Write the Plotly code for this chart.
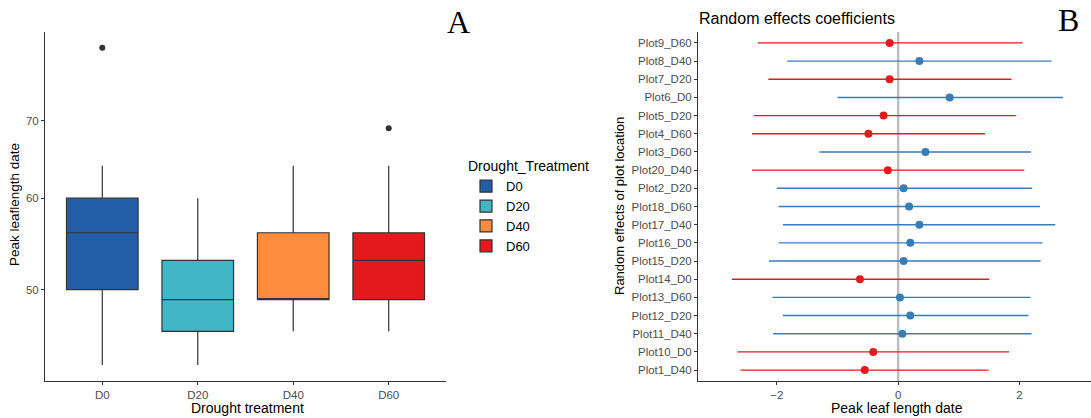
import plotly.graph_objects as go

# ---- Panel A data (box statistics) ----
treatments = ["D0", "D20", "D40", "D60"]
box_colors = ["#225EA8", "#41B6C4", "#FD8D3C", "#E31A1C"]
q1 = [50, 46, 49, 49]
median = [56, 49, 49, 53]
q3 = [60, 53, 56, 56]
lower_whisker = [43, 43, 46, 46]
upper_whisker = [64, 60, 64, 64]
outlier_treatment = ["D0", "D60"]
outlier_value = [81, 69]

# ---- Panel B data (random effects) ----
plots = ["Plot9_D60", "Plot8_D40", "Plot7_D20", "Plot6_D0", "Plot5_D20", "Plot4_D60",
         "Plot3_D60", "Plot20_D40", "Plot2_D20", "Plot18_D60", "Plot17_D40", "Plot16_D0",
         "Plot15_D20", "Plot14_D0", "Plot13_D60", "Plot12_D20", "Plot11_D40", "Plot10_D0",
         "Plot1_D40"]
estimate = [-0.14, 0.35, -0.14, 0.85, -0.24, -0.49, 0.45, -0.17, 0.09, 0.18, 0.35, 0.20,
            0.09, -0.63, 0.03, 0.20, 0.07, -0.41, -0.55]
ci_low = [-2.31, -1.83, -2.14, -1.00, -2.38, -2.41, -1.30, -2.41, -2.00, -1.97, -1.90, -1.97,
          -2.13, -2.74, -2.07, -1.90, -2.06, -2.65, -2.60]
ci_high = [2.05, 2.53, 1.87, 2.72, 1.94, 1.43, 2.19, 2.08, 2.21, 2.34, 2.59, 2.38,
           2.35, 1.50, 2.18, 2.15, 2.20, 1.83, 1.49]

W, H = 1091, 418
fig = go.Figure()

# Panel A boxes
for t, c, a, m, b, lw, uw in zip(treatments, box_colors, q1, median, q3, lower_whisker, upper_whisker):
    fig.add_trace(go.Box(
        x=[t], q1=[a], median=[m], q3=[b], lowerfence=[lw], upperfence=[uw],
        name=t, fillcolor=c, line=dict(color="#333333", width=1.2),
        width=0.75, whiskerwidth=0, boxpoints=False,
        xaxis="x", yaxis="y", legendgroup=t, showlegend=True,
    ))
fig.add_trace(go.Scatter(
    x=outlier_treatment, y=outlier_value, mode="markers",
    marker=dict(color="#333333", size=6), showlegend=False, xaxis="x", yaxis="y",
))

# Panel B
red, blue = "#E41A1C", "#377EB8"
for sign, col in (("neg", red), ("pos", blue)):
    idx = [i for i, e in enumerate(estimate) if (e < 0) == (sign == "neg")]
    fig.add_trace(go.Scatter(
        x=[estimate[i] for i in idx], y=[plots[i] for i in idx], mode="markers",
        marker=dict(color=col, size=8),
        error_x=dict(type="data", symmetric=False,
                     array=[ci_high[i] - estimate[i] for i in idx],
                     arrayminus=[estimate[i] - ci_low[i] for i in idx],
                     color=col, thickness=1.4, width=0),
        showlegend=False, xaxis="x2", yaxis="y2",
    ))

ydom = [(H - 381) / H, (H - 32) / H]
tickfont = dict(family="Liberation Sans, Arial, sans-serif", size=11.5, color="#4D4D4D")
axis_common = dict(showline=True, linecolor="#333333", linewidth=1, ticks="outside",
                   ticklen=3, tickcolor="#333333", showgrid=False, zeroline=False,
                   tickfont=tickfont)

fig.update_layout(
    width=W, height=H, margin=dict(l=0, r=0, t=0, b=0),
    paper_bgcolor="white", plot_bgcolor="white",
    boxmode="overlay",
    font=dict(family="Liberation Sans, Arial, sans-serif", color="black"),
    xaxis=dict(domain=[45 / W, 446 / W], type="category", categoryorder="array",
               categoryarray=treatments, range=[-0.6, 3.6], anchor="y", **axis_common),
    yaxis=dict(domain=ydom, type="log", range=[1.6197, 1.9222], tickvals=[50, 60, 70],
               anchor="x", **axis_common),
    xaxis2=dict(domain=[698 / W, 1.0], range=[-3.3, 3.18], tickvals=[-2, 0, 2],
                anchor="y2", **axis_common),
    yaxis2=dict(domain=ydom, type="category", categoryorder="array", categoryarray=plots,
                range=[len(plots) - 0.4, -0.6], anchor="x2", **axis_common),
    legend=dict(x=466 / W, y=(H - 153) / H, xanchor="left", yanchor="top",
                title=dict(text="Drought_Treatment", font=dict(size=14, color="black")),
                font=dict(size=13, color="black"), itemwidth=30, tracegroupgap=0,
                bgcolor="rgba(0,0,0,0)"),
    shapes=[dict(type="line", xref="x2", yref="paper", x0=0, x1=0,
                 y0=ydom[0], y1=ydom[1], line=dict(color="#BEBEBE", width=2.5), layer="below")],
)

ann = [
    dict(text="Peak leaflength date", x=15 / W, y=(H - 205) / H, textangle=-90, font=dict(size=13.5)),
    dict(text="Drought treatment", x=247 / W, y=(H - 408) / H, font=dict(size=14)),
    dict(text="Peak leaf length date", x=897 / W, y=(H - 408) / H, font=dict(size=14)),
    dict(text="Random effects of plot location", x=619 / W, y=(H - 206) / H, textangle=-90, font=dict(size=13)),
    dict(text="A", x=458 / W, y=(H - 22) / H, font=dict(size=32, family="Liberation Serif, Times New Roman, serif")),
    dict(text="B", x=1068 / W, y=(H - 20) / H, font=dict(size=32, family="Liberation Serif, Times New Roman, serif")),
]
for a in ann:
    fig.add_annotation(xref="paper", yref="paper", showarrow=False, xanchor="center",
                       yanchor="middle", **a)
fig.add_annotation(text="Random effects coefficients", xref="paper", yref="paper",
                   x=697 / W, y=(H - 18) / H, xanchor="left", yanchor="middle",
                   showarrow=False, font=dict(size=16))

fig.write_html("out.html")
